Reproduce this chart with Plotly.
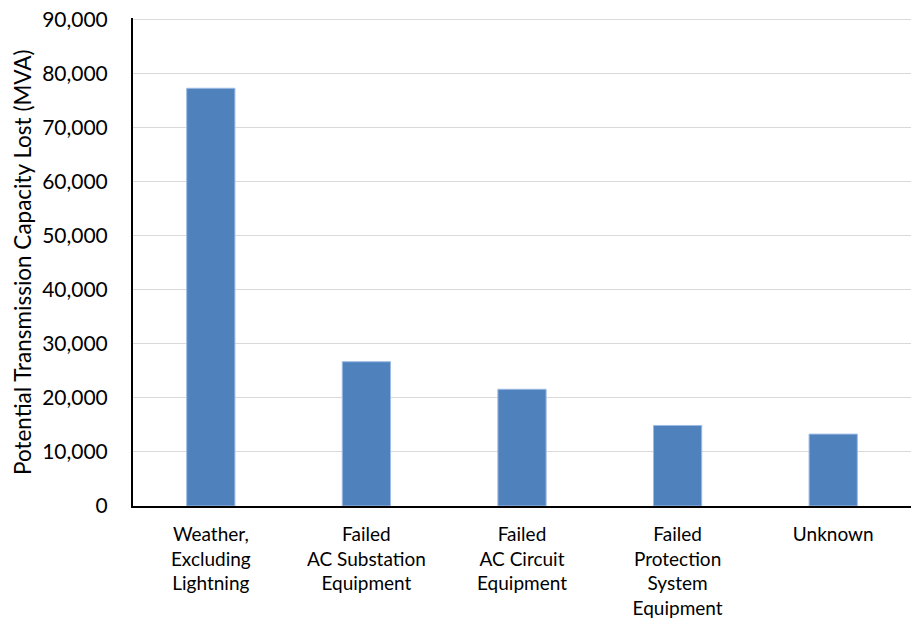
import plotly.graph_objects as go

categories = [
    "Weather,<br>Excluding<br>Lightning",
    "Failed<br>AC Substation<br>Equipment",
    "Failed<br>AC Circuit<br>Equipment",
    "Failed<br>Protection<br>System<br>Equipment",
    "Unknown",
]
values = [77300, 26700, 21600, 14900, 13300]
y_ticks = [0, 10000, 20000, 30000, 40000, 50000, 60000, 70000, 80000, 90000]
y_max = 90300
y_title = "Potential Transmission Capacity Lost (MVA)"

FONT = "Lato"
W, H = 911, 624
L, R, T, B = 133, 0, 18, 118

fig = go.Figure(
    go.Bar(
        x=categories,
        y=values,
        marker=dict(color="#4F81BD", line=dict(color="#9DBBE3", width=1)),
    )
)

fig.update_layout(
    width=W,
    height=H,
    margin=dict(l=L, r=R, t=T, b=B, autoexpand=False),
    paper_bgcolor="white",
    plot_bgcolor="white",
    bargap=0.69,
    showlegend=False,
    font=dict(family=FONT, color="#000000"),
)

fig.update_xaxes(
    showline=True,
    linecolor="#000000",
    linewidth=2,
    showgrid=False,
    automargin=False,
    ticklabelstandoff=10,
    tickfont=dict(size=19, family=FONT, color="#000000"),
    ticks="",
    fixedrange=True,
)

fig.update_yaxes(
    range=[0, y_max],
    tickvals=y_ticks,
    tickformat=",d",
    showline=True,
    linecolor="#000000",
    linewidth=2,
    showgrid=True,
    gridcolor="#D9D9D9",
    gridwidth=1,
    zeroline=False,
    automargin=False,
    ticks="",
    ticklabelstandoff=19,
    ticklabeloverflow="allow",
    tickfont=dict(size=21, family=FONT, color="#000000"),
)

fig.add_annotation(
    text=y_title,
    xref="paper",
    yref="paper",
    x=(22 - L) / (W - L - R),
    y=0.5,
    xanchor="center",
    yanchor="middle",
    textangle=-90,
    showarrow=False,
    font=dict(size=22.5, family=FONT, color="#000000"),
)

fig.write_html(
    "out.html",
    config={"displayModeBar": False},
    post_script="document.body.style.margin='0';",
)
